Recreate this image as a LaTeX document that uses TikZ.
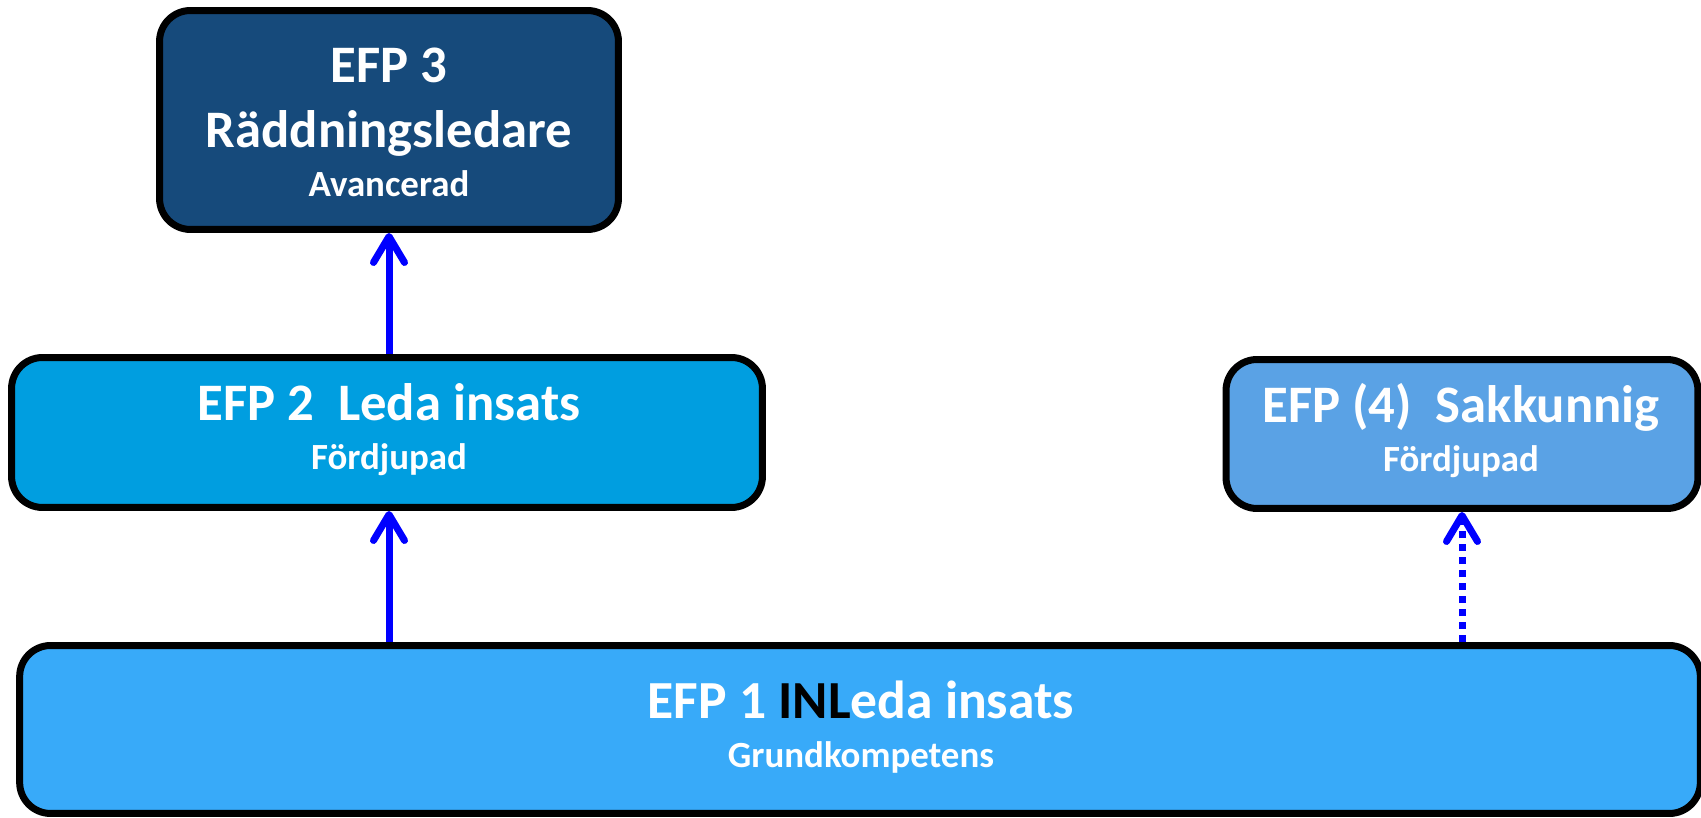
\documentclass[tikz,border=0pt]{standalone}
\usepackage{fontspec}
\setmainfont{Carlito}
\usetikzlibrary{arrows.meta}
\definecolor{cDark}{HTML}{164A7B}
\definecolor{cTwo}{HTML}{009EE0}
\definecolor{cFour}{HTML}{5AA2E5}
\definecolor{cOne}{HTML}{38AAF9}
\definecolor{cArrow}{HTML}{0000FF}
\tikzset{
  box/.style={draw=black, line width=0.14cm, rounded corners=0.62cm, rectangle, inner sep=0pt},
  title/.style={anchor=base, text=white, inner sep=0pt, font=\bfseries\fontsize{30}{35}\selectfont},
  sub/.style={anchor=base, text=white, inner sep=0pt, font=\bfseries\fontsize{21}{25}\selectfont},
  arr/.style={draw=cArrow, line width=0.14cm, -{Straight Barb[length=0.52cm, width=0.62cm, round]}},
  dotarr/.style={arr, dash pattern=on 0.14cm off 0.12cm}
}
\begin{document}
\begin{tikzpicture}[x=0.02cm, y=0.02cm]
\useasboundingbox (0,0) rectangle (1701,818);
% boxes
\node[box, fill=cDark, minimum width=9.18cm, minimum height=4.38cm] (e3) at (389,698) {};
\node[box, fill=cTwo, minimum width=15.02cm, minimum height=3.0cm] (e2) at (387,385.5) {};
\node[box, fill=cFour, minimum width=9.44cm, minimum height=2.98cm] (e4) at (1462,384) {};
\node[box, fill=cOne, minimum width=33.62cm, minimum height=3.36cm] (e1) at (860,88.5) {};
% texts
\node[title] (t3a) at (389,735) {EFP 3};
\node[title] (t3b) at (389,670) {Räddningsledare};
\node[sub] (t3c) at (389,621) {Avancerad};
\node[title] (t2a) at (389,397) {EFP 2\ \ Leda insats};
\node[sub] (t2b) at (389,348) {Fördjupad};
\node[title] (t4a) at (1461,395) {EFP (4)\ \ Sakkunnig};
\node[sub] (t4b) at (1461,346) {Fördjupad};
\node[title, font=\bfseries\fontsize{30.5}{36}\selectfont] (t1a) at (861,99) {EFP 1 \textcolor{black}{INL}eda insats};
\node[sub] (t1b) at (861,50) {Grundkompetens};
% connectors
\coordinate (ax) at (389,500);
\draw[arr] (e2.north -| ax) -- (e3.south -| ax);
\draw[arr] (e1.north -| ax) -- (e2.south -| ax);
\draw[dotarr] (e1.north -| e4.south) -- (e4.south);
\end{tikzpicture}
\end{document}
